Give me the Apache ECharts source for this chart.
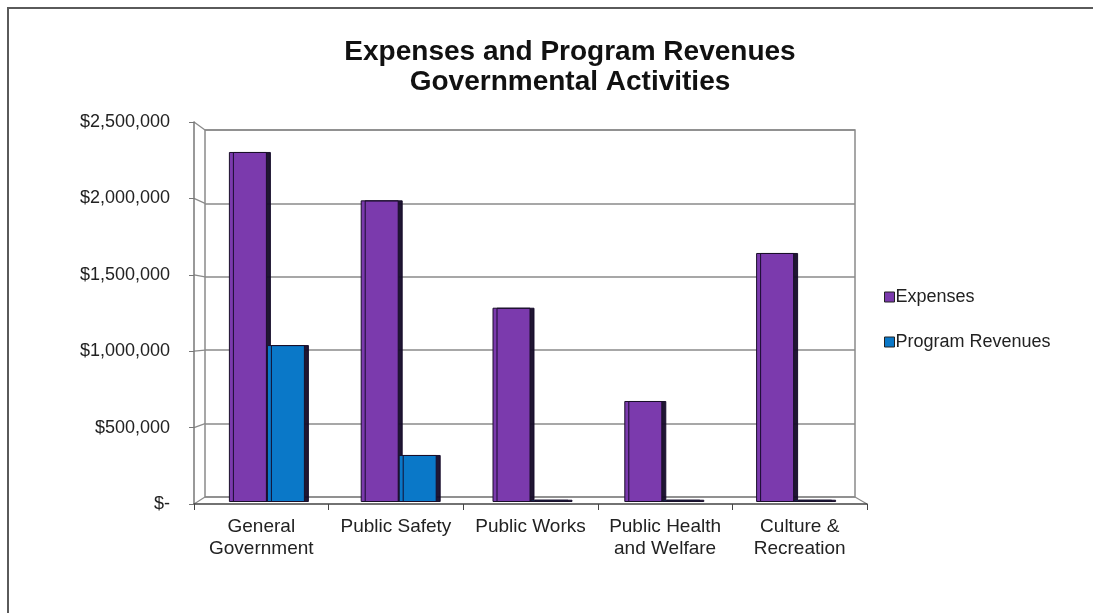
<!DOCTYPE html>
<html>
<head>
<meta charset="utf-8">
<script src="https://cdn.jsdelivr.net/npm/echarts@6/dist/echarts.min.js"></script>
<style>
  html, body { margin: 0; padding: 0; background: #fff; }
  #chart { width: 1093px; height: 613px; }
</style>
</head>
<body>
<div id="chart"></div>
<script>
// Governmental activities: expenses vs. program revenues by function
const categories = ['General\nGovernment', 'Public Safety', 'Public Works', 'Public Health\nand Welfare', 'Culture &\nRecreation'];
const expenses = [2315000, 1995000, 1285000, 668000, 1647000];
const programRevenues = [1038000, 311000, 15000, 15000, 15000];
const yTicks = [0, 500000, 1000000, 1500000, 2000000, 2500000];

const PURPLE = '#7B3AAD';
const BLUE = '#0A78C8';
const FONT = '"Liberation Sans", Arial, sans-serif';

function money(v) {
  if (v === 0) return '$-';
  return '$' + v.toLocaleString('en-US');
}

const yMax = yTicks[yTicks.length - 1];
const yStep = yTicks[1] - yTicks[0];

const chart = echarts.init(document.getElementById('chart'), null, { renderer: 'canvas' });

const barStyle = (color) => ({
  color: color,
  borderColor: '#1a0f2a',
  borderWidth: 1,
  shadowColor: 'rgba(20,10,40,0.95)',
  shadowBlur: 0,
  shadowOffsetX: 4,
  shadowOffsetY: 0
});

const option = {
  animation: false,
  backgroundColor: '#fff',
  title: {
    text: 'Expenses and Program Revenues\nGovernmental Activities',
    left: 565,
    top: 32,
    textAlign: 'center',
    textStyle: { fontFamily: FONT, fontSize: 28, fontWeight: 'bold', color: '#111', lineHeight: 30 }
  },
  legend: {
    orient: 'vertical',
    left: 879,
    top: 283,
    itemWidth: 10,
    itemHeight: 10,
    itemGap: 27,
    icon: 'rect',
    textStyle: { fontFamily: FONT, fontSize: 18, color: '#222', padding: [0, 0, 0, -4] },
    data: [
      { name: 'Expenses', itemStyle: { color: PURPLE, borderColor: '#222', borderWidth: 1 } },
      { name: 'Program Revenues', itemStyle: { color: BLUE, borderColor: '#222', borderWidth: 1 } }
    ]
  },
  grid: [
    // back wall with gridlines
    { left: 205, right: 238, top: 130, bottom: 116, show: true, borderColor: '#8a8a8a', borderWidth: 1.5, backgroundColor: 'transparent' },
    // bars standing on the floor
    { left: 201, right: 233, top: 124, bottom: 111 },
    // front axes
    { left: 194, right: 226, top: 122, bottom: 109 }
  ],
  xAxis: [
    { gridIndex: 0, type: 'category', data: categories, axisLabel: { show: false }, axisTick: { show: false }, axisLine: { show: false } },
    { gridIndex: 1, type: 'category', data: categories, axisLabel: { show: false }, axisTick: { show: false }, axisLine: { show: false } },
    {
      gridIndex: 2, type: 'category', data: categories,
      axisLine: { show: true, lineStyle: { color: '#444', width: 1.5 } },
      axisTick: { show: true, length: 6, lineStyle: { color: '#444' } },
      axisLabel: { fontFamily: FONT, fontSize: 19, color: '#222', margin: 12, lineHeight: 22, interval: 0 }
    }
  ],
  yAxis: [
    {
      gridIndex: 0, type: 'value', min: 0, max: yMax, interval: yStep,
      axisLabel: { show: false }, axisTick: { show: false }, axisLine: { show: false },
      splitLine: { show: true, lineStyle: { color: '#8a8a8a', width: 1.5 } }
    },
    {
      gridIndex: 1, type: 'value', min: 0, max: yMax, interval: yStep,
      axisLabel: { show: false }, axisTick: { show: false }, axisLine: { show: false }, splitLine: { show: false }
    },
    {
      gridIndex: 2, type: 'value', min: 0, max: yMax, interval: yStep,
      axisLine: { show: true, lineStyle: { color: '#777', width: 1.5 } },
      axisTick: { show: true, length: 5, lineStyle: { color: '#777' } },
      splitLine: { show: false },
      axisLabel: { fontFamily: FONT, fontSize: 18, color: '#222', margin: 24, formatter: money }
    }
  ],
  series: [
    { name: 'Expenses', type: 'bar', xAxisIndex: 1, yAxisIndex: 1, data: expenses, barWidth: 38, barGap: '0%', itemStyle: barStyle(PURPLE) },
    { name: 'Program Revenues', type: 'bar', xAxisIndex: 1, yAxisIndex: 1, data: programRevenues, barWidth: 38, barGap: '0%', itemStyle: barStyle(BLUE) }
  ]
};

chart.setOption(option);

// Depth lines joining the front axes to the back wall, plus the outer frame
const lines = [];
const lineStyle = { stroke: '#8a8a8a', lineWidth: 1.2 };
yTicks.forEach(function (v) {
  const back = chart.convertToPixel({ xAxisIndex: 0, yAxisIndex: 0 }, [0, v]);
  const front = chart.convertToPixel({ xAxisIndex: 2, yAxisIndex: 2 }, [0, v]);
  const backX = 205, frontX = 194;
  lines.push({ type: 'line', shape: { x1: frontX, y1: front[1], x2: backX, y2: back[1] }, style: lineStyle, silent: true });
});
const backBottom = chart.convertToPixel({ xAxisIndex: 0, yAxisIndex: 0 }, [0, 0])[1];
const frontBottom = chart.convertToPixel({ xAxisIndex: 2, yAxisIndex: 2 }, [0, 0])[1];
const backRight = 1093 - 238, frontRight = 1093 - 226;
lines.push({ type: 'line', shape: { x1: backRight, y1: backBottom, x2: frontRight, y2: frontBottom }, style: lineStyle, silent: true });
lines.push({ type: 'polyline', shape: { points: [[8, 613], [8, 8], [1093, 8]] }, style: { stroke: '#5a5a5a', lineWidth: 2, fill: null }, silent: true });
chart.setOption({ graphic: lines });
</script>
</body>
</html>
